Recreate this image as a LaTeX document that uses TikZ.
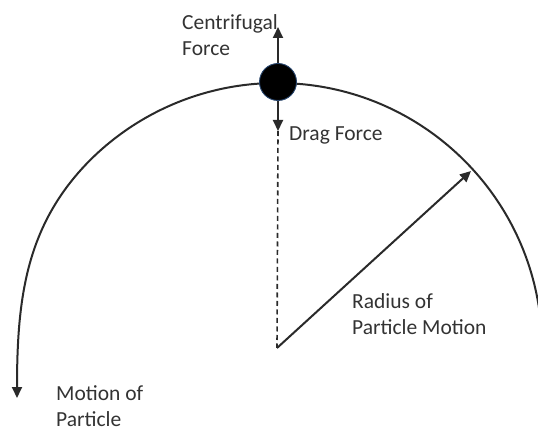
\documentclass[tikz,border=0pt]{standalone}
\usepackage{fontspec}
\setmainfont{Carlito}
\usetikzlibrary{arrows.meta,calc}
\definecolor{txt}{HTML}{333333}
\definecolor{lnc}{HTML}{2A2A2A}
\tikzset{
  lbl/.style={anchor=north west, align=left, inner sep=0pt, text=txt,
    font=\fontsize{21.5}{26}\selectfont},
  ln/.style={line width=2pt, draw=lnc},
  tip/.style={-{Triangle[length=11pt,width=10pt]}},
}
\begin{document}
\begin{tikzpicture}[x=1pt,y=-1pt]
\useasboundingbox (0,0) rectangle (538,430);
\clip (0,0) rectangle (538,430);
\coordinate (C) at (277,348);
\coordinate (R) at (471,171);
\coordinate (up) at (278,27);
\coordinate (dn) at (278,131);
\coordinate (end) at (17,398);
% path of the particle
\draw[ln,tip] ($(C)+(0:265)$) arc[start angle=0, end angle=-135, radius=265]
  .. controls (26.4,224.6) and (17,297) .. (end);
% particle
\node (P) [circle, fill=black, draw={rgb,255:red,40;green,70;blue,110}, line width=0.9pt,
  minimum size=37pt, inner sep=0pt] at (278,82) {};
% forces
\draw[ln,tip] (P.north) -- (up);
\draw[ln,tip] (P.south) -- (dn);
\draw[ln, dash pattern=on 5pt off 3.5pt, line width=1.6pt] (dn) -- (C);
\draw[ln,tip] (C) -- (R);
% labels
\node (cf) [lbl] at (182,14) {Centrifugal\\Force};
\node (df) [lbl] at (289,127) {Drag Force};
\node (rp) [lbl] at (352,293) {Radius of\\Particle Motion};
\node (mp) [lbl] at (56,385) {Motion of\\Particle};
\end{tikzpicture}
\end{document}
